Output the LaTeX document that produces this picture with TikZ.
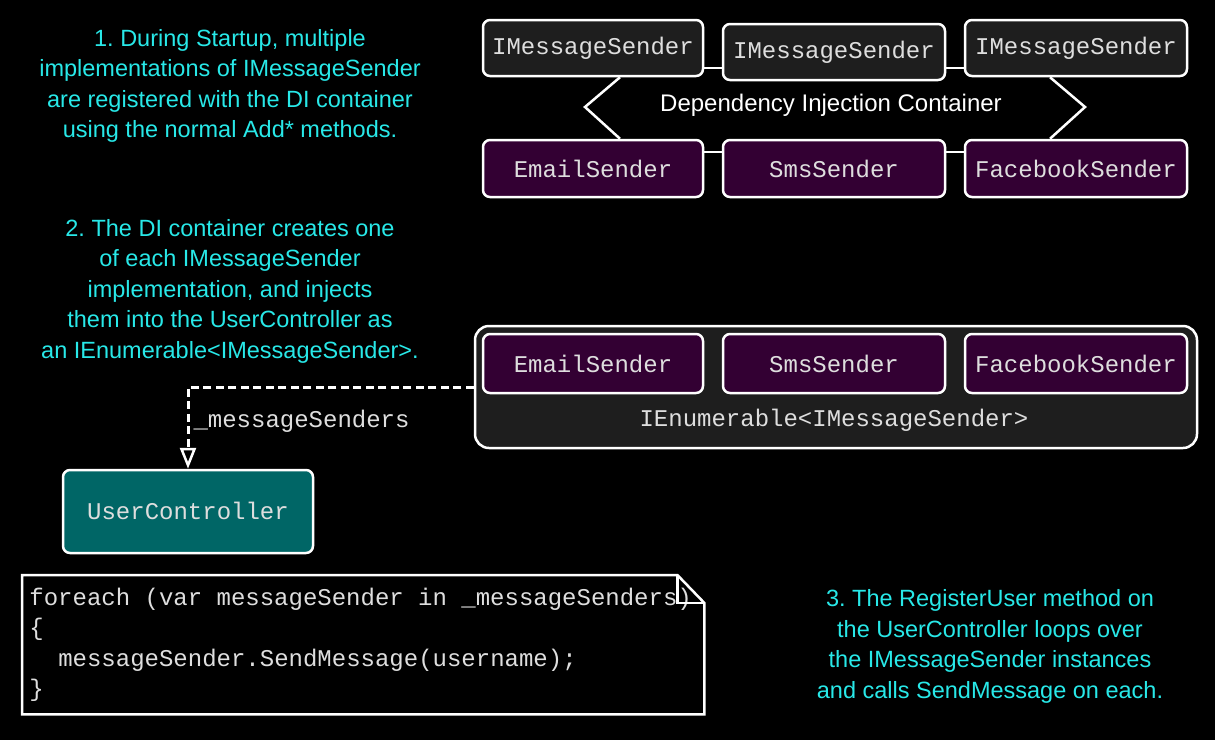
\documentclass[tikz,border=0pt]{standalone}
\usepackage{fontspec}
\setmainfont{Liberation Sans}
\setsansfont{Liberation Sans}
\setmonofont{Liberation Mono}
\usetikzlibrary{arrows.meta}
\frenchspacing
\definecolor{notecyan}{RGB}{40,232,232}
\definecolor{boxgray}{RGB}{30,30,30}
\definecolor{implpurple}{RGB}{51,0,51}
\definecolor{ctrlteal}{RGB}{0,102,102}
\definecolor{codegray}{RGB}{222,222,222}
\tikzset{
	svcbox/.style={draw=white,line width=2.5pt,rounded corners=7pt,fill=boxgray,
		text=codegray,font=\ttfamily\fontsize{24}{28}\selectfont,
		minimum width=220pt,minimum height=56pt,inner sep=0pt},
	implbox/.style={svcbox,fill=implpurple},
	note/.style={text=notecyan,align=center,font=\sffamily\fontsize{23.5}{30.5}\selectfont}
}
\begin{document}
\begin{tikzpicture}[x=1pt,y=-1pt]
	\fill[black] (0,0) rectangle (1215,740);
	\useasboundingbox (0,0) rectangle (1215,740);
	% registrations
	\node[svcbox] (msgA) at (593,48) {IMessageSender};
	\node[svcbox,minimum width=222pt] (msgB) at (834,52) {IMessageSender};
	\node[svcbox,minimum width=222pt] (msgC) at (1076,48) {IMessageSender};
	\node[implbox,minimum height=57pt] (emailA) at (593,168.5) {EmailSender};
	\node[implbox,minimum height=57pt,minimum width=222pt] (smsA) at (834,168.5) {SmsSender};
	\node[implbox,minimum height=57pt,minimum width=222pt] (fbA) at (1076,168.5) {FacebookSender};
	\foreach \l/\r in {msgA/msgB,msgB/msgC}
		\draw[white,line width=2.5pt] (\l.east |- 0,68) -- (\r.west |- 0,68);
	\foreach \l/\r in {emailA/smsA,smsA/fbA}
		\draw[white,line width=2.5pt] (\l.east |- 0,152) -- (\r.west |- 0,152);
	% container
	\draw[white,line width=2.5pt,line join=miter] ([xshift=27pt]msgA.south) -- (585,107) -- ([xshift=27pt]emailA.north);
	\draw[white,line width=2.5pt,line join=miter] ([xshift=-26pt]msgC.south) -- (1085,107) -- ([xshift=-26pt]fbA.north);
	\node[text=white,font=\sffamily\fontsize{24}{28}\selectfont] (di) at (831,105) {Dependency Injection Container};
	% injected collection
	\node[draw=white,line width=2.5pt,rounded corners=14pt,fill=boxgray,
		minimum width=722pt,minimum height=122pt] (enum) at (836,387) {};
	\node[implbox,minimum height=59pt] (emailB) at (593,363.5) {EmailSender};
	\node[implbox,minimum height=59pt,minimum width=222pt] (smsB) at (834,363.5) {SmsSender};
	\node[implbox,minimum height=59pt,minimum width=222pt] (fbB) at (1076,363.5) {FacebookSender};
	\node[text=codegray,font=\ttfamily\fontsize{24}{28}\selectfont] (enumlbl) at (834,420) {IEnumerable<IMessageSender>};
	\node[svcbox,fill=ctrlteal,minimum width=250pt,minimum height=83pt] (ctrl) at (188,511.5) {\raisebox{2pt}{UserController}};
	\draw[white,line width=3pt,dash pattern=on 8pt off 4.5pt,
		-{Triangle[open,width=16pt,length=21pt,line width=2.5pt]}]
		(enum.west) -| (ctrl.north);
	\node[anchor=west,text=codegray,font=\ttfamily\fontsize{24}{28}\selectfont] (field) at (190,421) {\_messageSenders};
	% code listing
	\node[anchor=north west,minimum width=682pt,minimum height=139pt,align=left,inner sep=0pt,
		text=codegray,font=\ttfamily\fontsize{24}{30.5}\selectfont] (code) at (22,575)
		{\hspace*{-5pt}foreach (var messageSender in \_messageSenders)\\
		 \hspace*{-5pt}\{\\
		 \hspace*{-5pt}\phantom{mm}messageSender.SendMessage(username);\\
		 \hspace*{-5pt}\}};
	\draw[white,line width=2.5pt,line join=miter] (code.north west) -- ([xshift=-27pt]code.north east)
		-- ([yshift=-28pt]code.north east) -- (code.south east) -- (code.south west) -- cycle;
	\draw[white,line width=2.5pt] ([xshift=-27pt]code.north east) -- ([xshift=-27pt,yshift=-28pt]code.north east)
		-- ([yshift=-28pt]code.north east);
	% notes
	\node[note] (stepA) at (230,86) {1. During Startup, multiple\\implementations of IMessageSender\\are registered with the DI container\\using the normal Add* methods.};
	\node[note] (stepB) at (230,291) {2. The DI container creates one\\of each IMessageSender\\implementation, and injects\\them into the UserController as\\an IEnumerable<IMessageSender>.};
	\node[note] (stepC) at (990,646.5) {3. The RegisterUser method on\\the UserController loops over\\the IMessageSender instances\\and calls SendMessage on each.};
\end{tikzpicture}
\end{document}
